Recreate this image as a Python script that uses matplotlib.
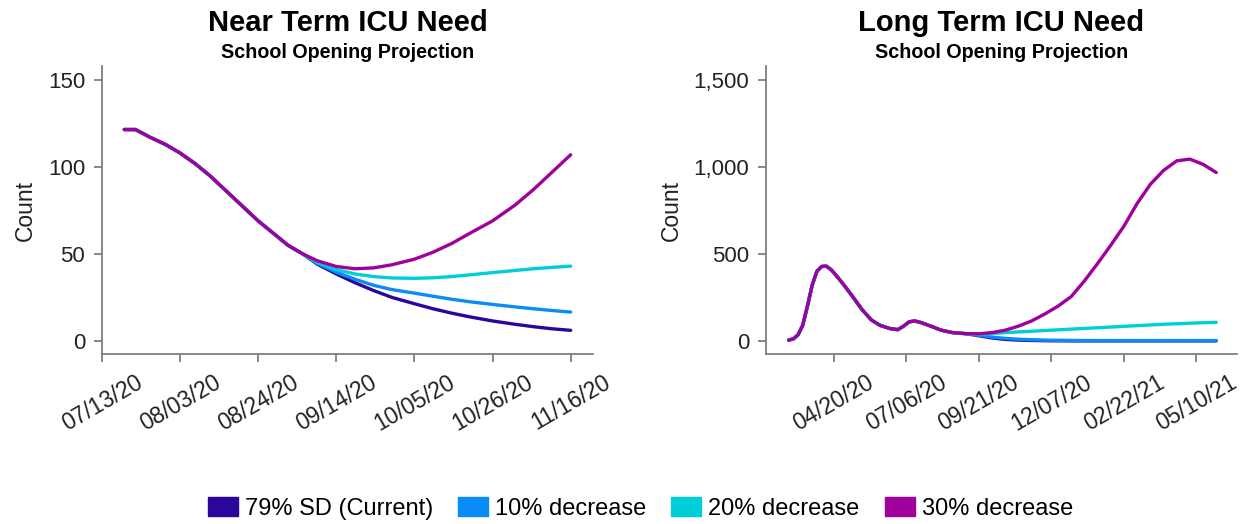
import matplotlib
matplotlib.use("Agg")
import matplotlib.pyplot as plt
from matplotlib.patches import Patch
from matplotlib.ticker import FuncFormatter
import pandas as pd

plt.rcParams['font.family'] = ['Liberation Sans', 'DejaVu Sans']

# series names and colours
labels = ['79% SD (Current)', '10% decrease', '20% decrease', '30% decrease']
colors = ['#2a069c', '#0a8cf6', '#00cfd8', '#a0009c']

# near term (left)
near_dates = ['2020-07-19', '2020-07-22', '2020-07-26', '2020-07-30', '2020-08-03',
              '2020-08-07', '2020-08-11', '2020-08-15', '2020-08-19', '2020-08-24',
              '2020-08-28', '2020-09-01', '2020-09-05', '2020-09-09', '2020-09-14',
              '2020-09-19', '2020-09-24', '2020-09-29', '2020-10-05', '2020-10-10',
              '2020-10-15', '2020-10-20', '2020-10-26', '2020-11-01', '2020-11-06',
              '2020-11-11', '2020-11-16']
near_common = [121.5, 121.5, 117, 113, 108, 102, 95, 87, 79, 69, 62, 55, 50]
near_sd79 = near_common + [44, 38.5, 33.5, 29, 25, 21.4, 18.5, 16, 13.8, 11.5, 9.6, 8.2, 7, 6.1]
near_dec10 = near_common + [44.5, 39.5, 35.5, 32, 29.5, 27.5, 25.7, 24, 22.5, 21, 19.6, 18.5, 17.5, 16.6]
near_dec20 = near_common + [45, 41, 38.5, 37, 36.2, 36, 36.3, 37, 38, 39.3, 40.5, 41.5, 42.3, 43]
near_dec30 = near_common + [46, 42.8, 41.5, 42, 43.8, 47, 51, 56, 62, 69, 78, 87, 97, 107]
near_ticks = ['07/13/20', '08/03/20', '08/24/20', '09/14/20', '10/05/20', '10/26/20', '11/16/20']

# long term (right)
long_dates = ['2020-03-03', '2020-03-08', '2020-03-13', '2020-03-18', '2020-03-23',
              '2020-03-28', '2020-04-02', '2020-04-07', '2020-04-12', '2020-04-17',
              '2020-04-22', '2020-05-01', '2020-05-10', '2020-05-20', '2020-05-30',
              '2020-06-08', '2020-06-18', '2020-06-27', '2020-07-03', '2020-07-09',
              '2020-07-15', '2020-07-22', '2020-08-01', '2020-08-12', '2020-08-24',
              '2020-09-07', '2020-09-21', '2020-10-05', '2020-10-19', '2020-11-02',
              '2020-11-16', '2020-11-30', '2020-12-14', '2020-12-28', '2021-01-11',
              '2021-01-25', '2021-02-08', '2021-02-22', '2021-03-08', '2021-03-22',
              '2021-04-05', '2021-04-19', '2021-05-03', '2021-05-17', '2021-05-31']
long_common = [5, 12, 35, 90, 200, 320, 400, 428, 430, 410, 380, 320, 255, 180, 120,
               90, 72, 65, 85, 110, 115, 105, 85, 62, 48, 42]
long_sd79 = long_common + [30, 17, 9, 5, 3, 1.5, 1, 0.5, 0.5, 0.5, 0.5, 0.5, 0.5, 0.5, 0.5, 0.5, 0.5, 0.5, 0.5]
long_dec10 = long_common + [33, 22, 15, 10, 7, 5, 4, 3, 2.5, 2, 2, 2, 2, 2, 2, 2, 2, 2, 2]
long_dec20 = long_common + [38, 42, 48, 52, 56, 60, 64, 68, 72, 76, 80, 84, 88, 92, 96, 99, 102, 105, 107]
long_dec30 = long_common + [41, 48, 62, 85, 115, 155, 200, 255, 345, 445, 550, 660, 790, 900, 980, 1035, 1045, 1015, 968]
long_ticks = ['04/20/20', '07/06/20', '09/21/20', '12/07/20', '02/22/21', '05/10/21']

fig = plt.figure(figsize=(12.51, 5.24), dpi=100)
ax1 = fig.add_axes([0.0815, 0.3244, 0.3925, 0.5496])
ax2 = fig.add_axes([0.6123, 0.3244, 0.3765, 0.5496])


def style(ax, title, ticks, xlim, ylim, yfmt):
    for s in ['top', 'right']:
        ax.spines[s].set_visible(False)
    for s in ['left', 'bottom']:
        ax.spines[s].set_color('#7f7f7f')
        ax.spines[s].set_linewidth(1.3)
    ax.tick_params(color='#7f7f7f', width=1.3, length=6, labelcolor='#222222')
    ax.tick_params(axis='y', labelsize=16, pad=6)
    ax.tick_params(axis='x', pad=6)
    tick_dates = pd.to_datetime(ticks, format='%m/%d/%y')
    ax.set_xticks(tick_dates)
    ax.set_xticklabels(ticks, rotation=30, ha='center', fontsize=16.5)
    ax.set_xlim(pd.Timestamp(xlim[0]), pd.Timestamp(xlim[1]))
    ax.set_ylim(*ylim)
    ax.yaxis.set_major_formatter(FuncFormatter(yfmt))
    ax.set_ylabel('Count', fontsize=16.5, color='#222222', labelpad=8)
    ax.text(0.5, 1.148, title, transform=ax.transAxes, ha='center', va='center',
            fontsize=21, fontweight='bold')
    ax.text(0.5, 1.048, 'School Opening Projection', transform=ax.transAxes,
            ha='center', va='center', fontsize=14.2, fontweight='bold')


nd = pd.to_datetime(near_dates)
for vals, c in zip([near_sd79, near_dec10, near_dec20, near_dec30], colors):
    ax1.plot(nd, vals, color=c, lw=2.4, solid_capstyle='round')
ax1.set_yticks([0, 50, 100, 150])
style(ax1, 'Near Term ICU Need', near_ticks, ('2020-07-13', '2020-11-22'), (-7.5, 158),
      lambda v, p: f'{v:.0f}')

ld = pd.to_datetime(long_dates)
for vals, c in zip([long_sd79, long_dec10, long_dec20, long_dec30], colors):
    ax2.plot(ld, vals, color=c, lw=2.4, solid_capstyle='round')
ax2.set_yticks([0, 500, 1000, 1500])
style(ax2, 'Long Term ICU Need', long_ticks, ('2020-02-08', '2021-06-22'), (-75, 1580),
      lambda v, p: f'{v:,.0f}')

handles = [Patch(facecolor=c, edgecolor=c, label=l) for c, l in zip(colors, labels)]
fig.legend(handles=handles, loc='center', bbox_to_anchor=(0.512, 0.03), ncol=4,
           frameon=False, fontsize=17, handlelength=1.27, handleheight=0.85,
           columnspacing=1.05, handletextpad=0.3)

fig.savefig('out.png', dpi=100)
